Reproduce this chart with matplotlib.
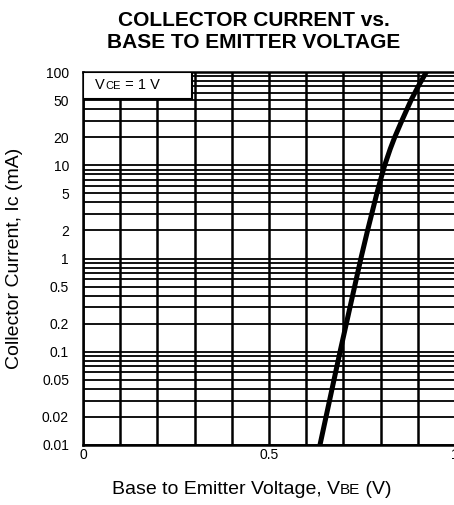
import matplotlib
matplotlib.use('Agg')
import matplotlib.pyplot as plt
from matplotlib.patches import Rectangle
from matplotlib.ticker import FixedLocator, LogLocator, MultipleLocator, NullFormatter
from matplotlib.offsetbox import TextArea, HPacker, AnnotationBbox

plt.rcParams['font.family'] = ['Liberation Sans', 'DejaVu Sans']

# curve
ic_ma = [0.01, 0.1, 1, 2, 5, 7, 10, 15, 20, 30, 50, 70, 100]
vbe_v = [0.637, 0.691, 0.747, 0.765, 0.790, 0.800, 0.811, 0.826, 0.838, 0.857, 0.882, 0.901, 0.923]

y_ticks = [0.01, 0.02, 0.05, 0.1, 0.2, 0.5, 1, 2, 5, 10, 20, 50, 100]
y_labels = ['0.01', '0.02', '0.05', '0.1', '0.2', '0.5', '1', '2', '5', '10', '20', '50', '100']
x_ticks = [0, 0.5, 1.0]
x_labels = ['0', '0.5', '1']

W, H = 454, 505
fig = plt.figure(figsize=(W / 100, H / 100), dpi=100)
ax = fig.add_axes([83 / W, 60 / H, 372 / W, 373 / H])

ax.set_yscale('log')
ax.set_xlim(0, 1.0)
ax.set_ylim(0.01, 100)

ax.yaxis.set_major_locator(FixedLocator(y_ticks))
ax.set_yticklabels(y_labels)
ax.yaxis.set_minor_locator(LogLocator(base=10, subs=range(1, 10), numticks=20))
ax.yaxis.set_minor_formatter(NullFormatter())
ax.set_xticks(x_ticks)
ax.set_xticklabels(x_labels)
ax.xaxis.set_minor_locator(MultipleLocator(0.1))

ax.tick_params(which='both', length=0, labelsize=10)
ax.tick_params(axis='y', pad=10)
ax.tick_params(axis='x', pad=2)

ax.grid(which='both', axis='x', color='black', linewidth=1.8)
ax.grid(which='both', axis='y', color='black', linewidth=1.3)
ax.set_axisbelow(True)
for s in ax.spines.values():
    s.set_linewidth(1.8)

ax.plot(vbe_v, ic_ma, color='black', linewidth=3.6, solid_capstyle='butt', zorder=3)

# condition box
ax.add_patch(Rectangle((0, 0.928), 0.293, 0.072, transform=ax.transAxes,
                       facecolor='white', edgecolor='black', linewidth=1.5, zorder=4))
cond = HPacker(children=[TextArea('V', textprops=dict(fontsize=10.5)),
                         TextArea('CE', textprops=dict(fontsize=8)),
                         TextArea(' = 1 V', textprops=dict(fontsize=10.5))],
               align='baseline', pad=0, sep=0)
ax.add_artist(AnnotationBbox(cond, (0.033, 0.964), xycoords='axes fraction',
                             box_alignment=(0, 0.5), frameon=False, zorder=5))

fig.text(254 / W, 1 - 21 / H, 'COLLECTOR CURRENT vs.', ha='center', va='center',
         fontsize=15, fontweight='bold')
fig.text(254 / W, 1 - 43 / H, 'BASE TO EMITTER VOLTAGE', ha='center', va='center',
         fontsize=15, fontweight='bold')

fig.text(15 / W, 1 - 258 / H, 'Collector Current, Ic (mA)', rotation=90,
         ha='center', va='center', fontsize=14)

xlab = HPacker(children=[TextArea('Base to Emitter Voltage, V', textprops=dict(fontsize=14)),
                         TextArea('BE', textprops=dict(fontsize=11)),
                         TextArea(' (V)', textprops=dict(fontsize=14))],
               align='baseline', pad=0, sep=0)
fig.add_artist(AnnotationBbox(xlab, (252 / W, 1 - 490 / H), xycoords='figure fraction',
                              box_alignment=(0.5, 0.5), frameon=False))

fig.savefig('out.png', dpi=100)
